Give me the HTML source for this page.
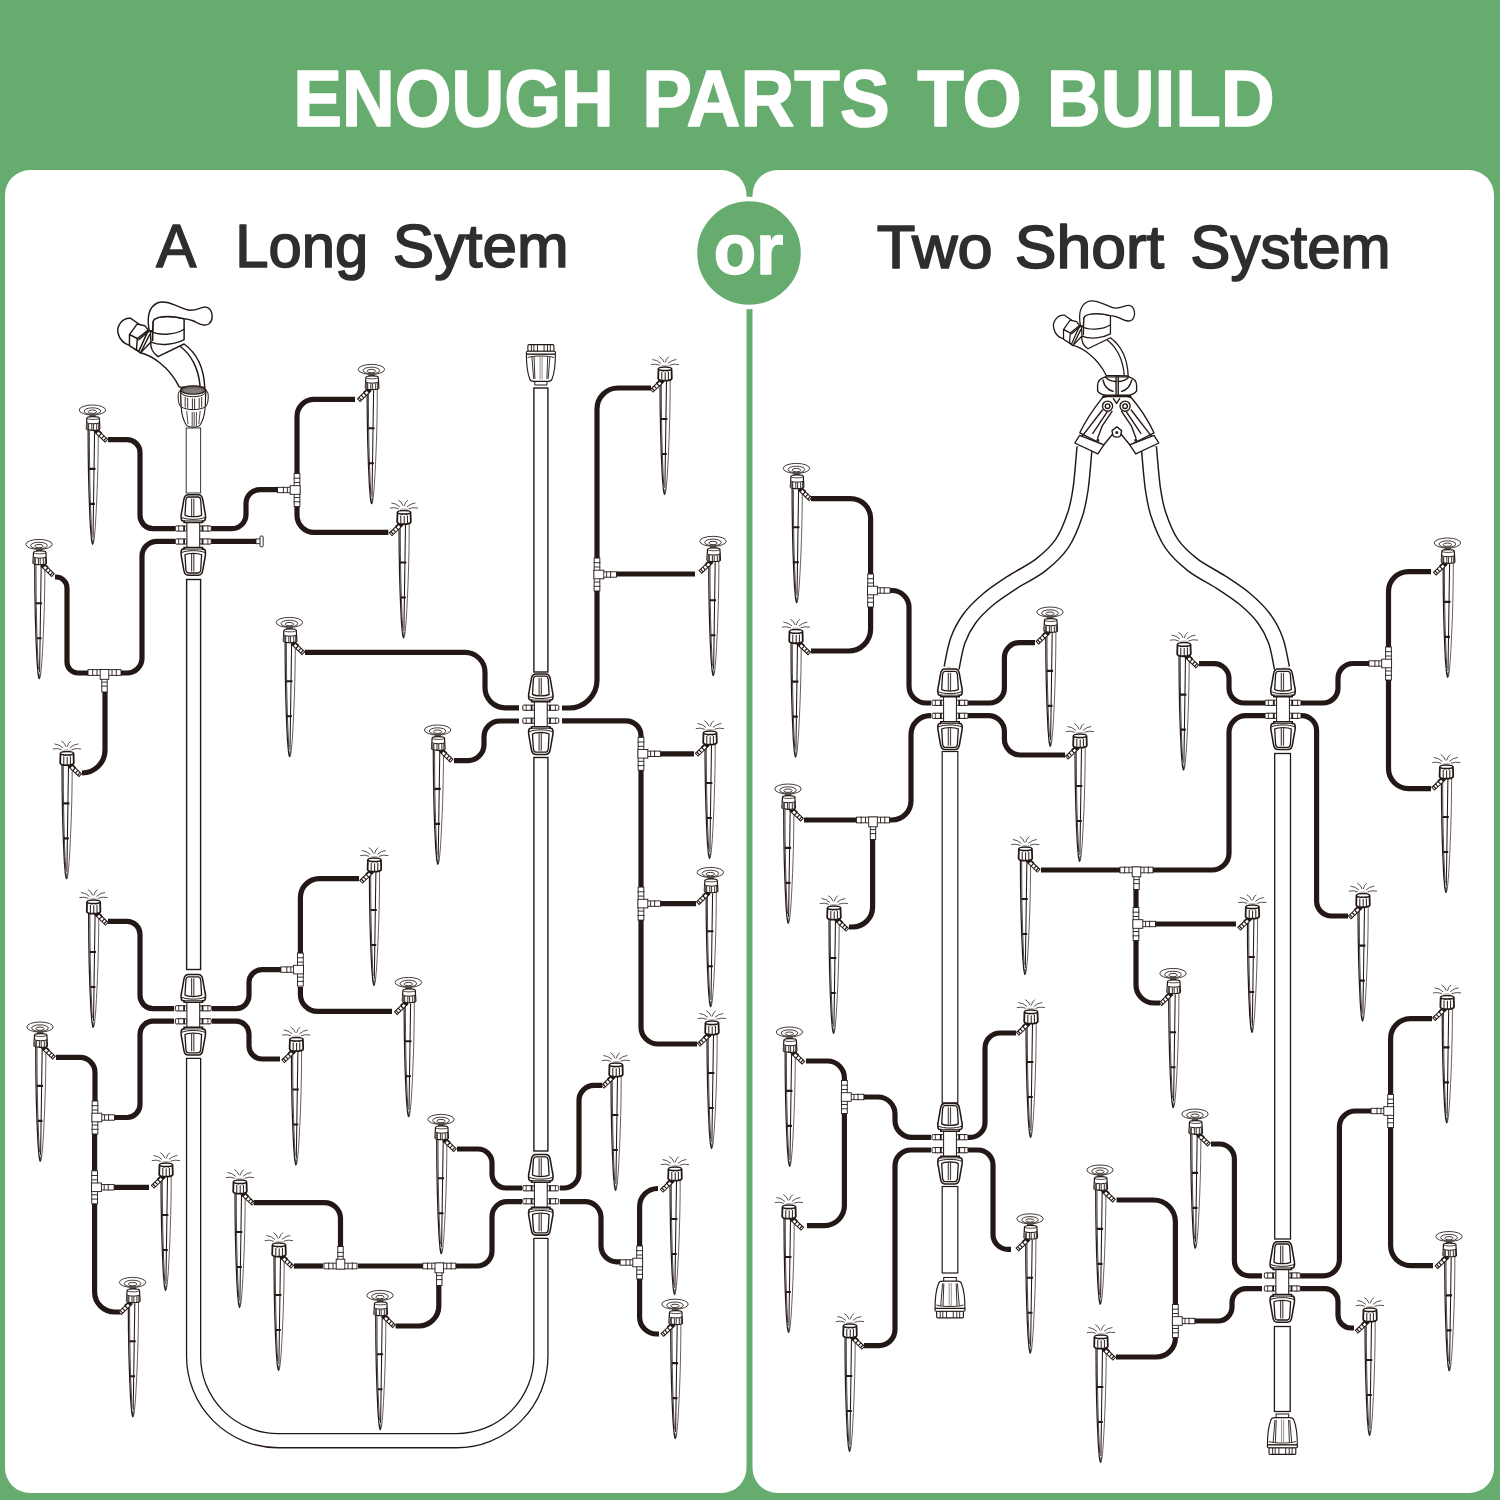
<!DOCTYPE html>
<html lang="en"><head><meta charset="utf-8"><title>Enough parts to build</title>
<style>html,body{margin:0;padding:0;background:#66ac6e;}body{width:1500px;height:1500px;overflow:hidden;}svg{display:block;}</style>
</head><body>
<svg width="1500" height="1500" viewBox="0 0 1500 1500">
<defs>
<g id="stk">
  <path d="M-5,12.5C-5,50 -4.2,82 -2.7,110L-1.7,122Q-1,127.2 -0.3,127.7Q0.4,127.2 1.1,122L2.2,110C3.9,82 5.2,50 5.2,12.5Z" fill="#fff" stroke="none"/>
  <path d="M5.2,12.5C5.2,50 3.9,82 2.2,110L1.1,122Q0.4,127.2 -0.3,127.7" fill="none" stroke="#4a4340" stroke-width="0.85"/>
  <path d="M-5,12.5C-5,50 -4.2,82 -2.7,110L-1.7,122Q-1,127.2 -0.3,127.7" fill="none" stroke="#231815" stroke-width="1.2"/>
  <path d="M-3.7,14C-3.7,55 -3,86 -1.3,118" fill="none" stroke="#231815" stroke-width="0.8"/>
  <path d="M1.5,14L-0.1,121" fill="none" stroke="#231815" stroke-width="1.05"/>
  <path d="M-3.9,52H2.4M-3.1,87H1.8" stroke="#231815" stroke-width="2.1"/>
  <path d="M-1.2,121.5L-0.3,127L0.5,121.5" fill="none" stroke="#231815" stroke-width="0.7"/>
</g>
<g id="barb">
  <g transform="translate(2.4,13.4) rotate(43.6)">
    <rect x="0" y="-1.9" width="15" height="3.8" fill="#fff" stroke="#231815" stroke-width="1"/>
    <path d="M6.4,-1.9V1.9M10,-1.9V1.9M13,-1.9V1.9" stroke="#231815" stroke-width="1.15"/>
    <path d="M0,-2H6.4" stroke="#231815" stroke-width="1.7"/>
    <rect x="0" y="-2" width="3" height="4" fill="#231815"/>
  </g>
</g>
<g id="hA">
  <ellipse cx="-0.7" cy="-6.9" rx="13.2" ry="5" fill="#fff" stroke="#231815" stroke-width="0.85"/>
  <ellipse cx="-0.7" cy="-5.8" rx="8.3" ry="3.3" fill="none" stroke="#231815" stroke-width="0.85"/>
  <ellipse cx="-0.7" cy="-5.2" rx="4.2" ry="1.7" fill="#fff" stroke="#231815" stroke-width="0.85"/>
  <rect x="-3.7" y="-3.4" width="6.4" height="5" fill="#574f4c"/>
  <path d="M-6.2,1.2C-6.2,-0.9 6.2,-0.9 6.2,1.2L6.8,11.8C6.8,14 -6.8,14 -6.8,11.8Z" fill="#fff" stroke="#231815" stroke-width="1.2"/>
  <path d="M-6.2,1.2C-6.2,3 6.2,3 6.2,1.2" fill="none" stroke="#231815" stroke-width="0.8"/>
  <path d="M-6.5,5.8C-4,7.2 4,7.2 6.5,5.8" fill="none" stroke="#231815" stroke-width="1"/>
  <path d="M-6.6,6L-6.8,12L-4.6,13V6.8Z" fill="#6d6663"/>
  <path d="M-4.4,6.8V13M-1.3,7.1V13.4M0.5,7.1V13.4M3.6,6.9V13.1M5.6,6.4V12.6" fill="none" stroke="#231815" stroke-width="0.9"/>
</g>
<g id="hB">
  <path d="M-6.5,1.8L-6.8,11.5C-6.8,14.4 6.8,14.4 6.8,11.5L6.5,1.8" fill="#fff" stroke="#231815" stroke-width="1.8"/>
  <ellipse cx="0" cy="1.8" rx="6.5" ry="1.8" fill="#fff" stroke="#231815" stroke-width="1.5"/>
  <path d="M-3.2,5V12.8M0.2,5.4V13.3M3.4,5V12.8" fill="none" stroke="#231815" stroke-width="1"/>
  <circle cx="-1.6" cy="3.9" r="0.7" fill="#231815"/><circle cx="2.4" cy="3.9" r="0.7" fill="#231815"/>
  <path d="M-0.9,-4.6Q-2,-8.5 -5.7,-10.4M0.3,-4.6Q1,-8.5 3.9,-10.4M-4.1,-3.6Q-8,-7.2 -12.6,-7.5M2.9,-3.6Q7,-7.2 11.4,-7.5M-5.2,-1.7Q-9.5,-3.6 -14.2,-2.4M4.5,-1.7Q9,-3.6 14,-2.4" fill="none" stroke="#231815" stroke-width="0.75"/>
  <path d="M-4,-0.9C-2,-1.8 2,-1.8 4,-0.9" fill="none" stroke="#9a9593" stroke-width="0.7"/>
</g>
<g id="nut">
  <path d="M-5,-40.3H5C7.9,-40.3 9,-38.4 9.5,-35L11.6,-23C12.2,-20.5 12.3,-18.8 12.2,-17.4C12.1,-15.2 11.6,-14.2 10.2,-14.1H9.2V-12.5H-9.2V-14.1H-10.2C-11.6,-14.2 -12.1,-15.2 -12.2,-17.4C-12.3,-18.8 -12.2,-20.5 -11.6,-23L-9.5,-35C-9,-38.4 -7.9,-40.3 -5,-40.3Z" fill="#fff" stroke="#231815" stroke-width="1.55"/>
  <path d="M-7.4,-35C-7,-37.2 -6.4,-38 -5,-38H5C6.4,-38 7,-37.2 7.4,-35L8.3,-19.8C5,-17.8 -5,-17.8 -8.3,-19.8Z" fill="none" stroke="#231815" stroke-width="1.3"/>
  <path d="M-11.8,-17.6C-6,-15 6,-15 11.8,-17.6" fill="none" stroke="#231815" stroke-width="1"/>
  <path d="M-1.7,-36.5V-19M0.5,-36.5V-19" fill="none" stroke="#4f4846" stroke-width="1.2"/>
  <path d="M-9.2,-14.1H9.2" fill="none" stroke="#231815" stroke-width="0.9"/>
</g>
<g id="brb">
  <rect x="6.4" y="-2.6" width="11.6" height="5.2" rx="1.2" fill="#fff" stroke="#231815" stroke-width="1"/>
  <path d="M9.2,-2.6V2.6" stroke="#231815" stroke-width="1.8"/>
  <path d="M14.6,-2.6V2.6" stroke="#231815" stroke-width="0.8"/>
</g>
<g id="cpl">
  <use href="#brb" y="-6.5"/><use href="#brb" y="6.5"/>
  <use href="#brb" y="-6.5" transform="scale(-1,1)"/><use href="#brb" y="6.5" transform="scale(-1,1)"/>
  <rect x="-6.4" y="-13" width="12.8" height="26" fill="#fff" stroke="#231815" stroke-width="1"/>
  <use href="#nut"/>
  <use href="#nut" transform="scale(1,-1)"/>
</g>
<g id="tee">
  <rect x="-2.85" y="-16.5" width="5.7" height="33" fill="#fff" stroke="#231815" stroke-width="0.9"/>
  <rect x="5" y="-2.7" width="14.5" height="5.4" fill="#fff" stroke="#231815" stroke-width="0.9"/>
  <rect x="-3.1" y="-4.3" width="9.9" height="8.6" fill="#fff" stroke="#231815" stroke-width="0.9"/>
  <path d="M-3.4,-11.8H3.4M-3.4,11.8H3.4M13.6,-3.2V3.2M-2.85,-7.5H2.85M-2.85,7.5H2.85M9.6,-2.7V2.7" fill="none" stroke="#231815" stroke-width="0.9"/>
</g>
<g id="ecap">
  <path d="M-6.1,36.5V41H6.1V36.5" fill="#fff" stroke="#231815" stroke-width="1"/>
  <path d="M-14.5,10C-14.5,20 -13,30 -11.3,34.5C-10.8,36.6 -9.5,37.4 -7,37.4H7C9.5,37.4 10.8,36.6 11.3,34.5C13,30 14.5,20 14.5,10Z" fill="#fff" stroke="#231815" stroke-width="1.1"/>
  <path d="M-12,0.6C-12.8,0.6 -13,1.2 -13,2V7.2H13V2C13,1.2 12.8,0.6 12,0.6Z" fill="#fff" stroke="#231815" stroke-width="1.1"/>
  <rect x="-14.6" y="7.2" width="29.2" height="2.9" rx="1.2" fill="#fff" stroke="#231815" stroke-width="1.1"/>
  <path d="M-9.5,0.8V7M-7,0.8V7M-3.4,0.8V7M3.2,0.8V7M6.6,0.8V7M9.4,0.8V7" fill="none" stroke="#231815" stroke-width="0.9"/>
  <path d="M-13.2,13.5C-8,11.5 8,11.5 13.2,13.5" fill="none" stroke="#231815" stroke-width="0.9"/>
  <path d="M-9,13L-7.2,35M-6.8,12.6L-6,35M6.8,12.6L6,35M9,13L7.2,35" fill="none" stroke="#231815" stroke-width="0.9"/>
  <path d="M-0.8,12.2V35.5M1.2,12.2V35.5" fill="none" stroke="#8a8583" stroke-width="0.9"/>
</g>

<g id="fct" fill="none" stroke="#231815" stroke-width="10.5" stroke-linejoin="round" stroke-linecap="round">
  <!-- spout -->
  <path d="M275,462C350,480 480,560 552,712L735,716C728,560 665,455 587,398L400,490C370,470 345,430 348,385Z" fill="#fff"/>
  <path d="M562,418C632,470 692,572 702,712"/>
  <!-- inlet cylinder + hex -->
  <path d="M205,210C150,203 98,262 116,325C126,365 160,396 196,408L262,452L330,300L255,246Z" fill="#fff"/>
  <path d="M196,330L250,252L306,264L330,296L252,358Z" fill="#fff"/>
  <path d="M196,330V410L246,442L252,358Z" fill="#fff"/>
  <path d="M246,442L274,464L340,330"/>
  <path d="M262,366L334,304"/>
  <!-- handle base cylinder -->
  <path d="M364,235C370,198 470,184 587,213V366C520,402 420,414 350,384L345,300Z" fill="#fff"/>
  <path d="M342,302C400,337 520,335 587,290"/>
  <path d="M364,236L362,372"/>
  <!-- lever -->
  <path d="M337,300C322,215 330,130 395,98C450,72 520,115 600,145C660,168 700,126 742,128C792,135 802,215 766,250C730,275 690,245 650,228C625,218 605,214 587,213C470,184 372,198 364,235L362,300Z" fill="#fff"/>
</g>
<g id="ysp" fill="none" stroke="#231815" stroke-width="11.5" stroke-linejoin="round" stroke-linecap="round">
  <!-- body -->
  <path d="M528,888C470,960 380,1085 332,1190L530,1292L606,1200L640,1150L674,1200L750,1292L950,1190C900,1085 815,960 752,888Z" fill="#fff"/>
  <path d="M520,1000L352,1218M600,1012L520,1130L480,1235M560,1015L440,1195"/>
  <path d="M760,1000L928,1218M680,1012L760,1130L800,1235M720,1015L840,1195"/>
  <path d="M612,905L638,945L664,905"/>
  <circle cx="563" cy="968" r="42" fill="#fff"/><circle cx="563" cy="968" r="19"/>
  <circle cx="709" cy="968" r="42" fill="#fff"/><circle cx="709" cy="968" r="19"/>
  <path d="M600,1172L640,1140L680,1172L672,1214C655,1230 625,1230 608,1214Z" fill="#fff"/>
  <circle cx="640" cy="1187" r="7"/>
  <!-- collars -->
  <path d="M290,1275L330,1212L532,1290L482,1366Z" fill="#fff"/>
  <path d="M990,1275L950,1212L748,1290L798,1366Z" fill="#fff"/>
  <circle cx="482" cy="1252" r="7"/><circle cx="798" cy="1252" r="7"/>
  <!-- hex nut -->
  <path d="M530,882C600,852 690,852 752,882L760,896C690,870 600,870 520,896Z" fill="#fff"/>
  <path d="M480,795C480,760 505,735 545,724H740C780,735 805,760 805,795V840C790,862 765,872 740,877H545C515,872 490,858 480,840Z" fill="#fff"/>
  <path d="M634,724V870M652,724V870"/>
  <path d="M525,750C535,800 570,835 610,845M765,750C752,800 720,835 680,845"/>
  <path d="M545,724C560,745 590,760 634,762M740,724C725,745 695,760 652,762"/>
</g>
<g id="fcon" stroke="#231815">
  <path d="M-12.6,0C-14.8,1.5 -15.2,4 -15,8C-14.8,12.5 -14,15.5 -12,17L-12.6,0M12.6,0C14.8,1.5 15.2,4 15,8C14.8,12.5 14,15.5 12,17L12.6,0" fill="#fff" stroke-width="1"/>
  <path d="M-12.6,0L-12,17C-11.5,25 -9,32 -6.5,35.5C-5,37.6 5,37.6 6.5,35.5C9,32 11.5,25 12,17L12.6,0Z" fill="#fff" stroke-width="1.1"/>
  <ellipse cx="0" cy="0" rx="12.6" ry="4.2" fill="#6a625f" stroke-width="1.3"/>
  <ellipse cx="0" cy="0.8" rx="9.5" ry="2.6" fill="#857d7a" stroke="none"/>
  <path d="M-12.3,3C-8,8 8,8 12.3,3" fill="none" stroke-width="1"/>
  <path d="M-12,17C-6,20.5 6,20.5 12,17" fill="none" stroke-width="1"/>
  <path d="M-8,7V17.5M-5.5,8V18.5M-0.8,8.6V19.5M1.4,8.6V19.5M6,8V18.5M8.5,7V17.5" fill="none" stroke-width="0.9"/>
  <path d="M-6.5,21L-5.2,34M-1,22V36M1,22V36M3.2,22V36M7,21L5.6,34" fill="none" stroke-width="0.8"/>
</g></defs>
<rect width="1500" height="1500" fill="#66ac6e"/>
<rect x="5" y="170" width="741.5" height="1323" rx="25" fill="#fff"/>
<rect x="752.5" y="170" width="741.5" height="1323" rx="25" fill="#fff"/>
<circle cx="749" cy="253" r="54" fill="#66ac6e" stroke="#fff" stroke-width="4.5"/>
<text y="125.6" font-family="Liberation Sans, Arial, Helvetica, sans-serif" font-size="80.5" font-weight="bold" fill="#fff" stroke="#fff" stroke-width="1.6" stroke-linejoin="round" xml:space="preserve"><tspan x="293.3" textLength="320.4" lengthAdjust="spacingAndGlyphs">ENOUGH</tspan> <tspan x="642.3" textLength="247.4" lengthAdjust="spacingAndGlyphs">PARTS</tspan> <tspan x="917.3" textLength="104.4" lengthAdjust="spacingAndGlyphs">TO</tspan> <tspan x="1046.8" textLength="227.9" lengthAdjust="spacingAndGlyphs">BUILD</tspan></text>
<text y="267.3" font-family="Liberation Sans, Arial, Helvetica, sans-serif" font-size="62" font-weight="normal" fill="#2e2e2e" stroke="#2e2e2e" stroke-width="1.7" stroke-linejoin="round" xml:space="preserve"><tspan x="156.15" textLength="36.7" lengthAdjust="spacingAndGlyphs">A</tspan> <tspan x="235.35" textLength="132.8" lengthAdjust="spacingAndGlyphs">Long</tspan> <tspan x="392.85" textLength="175.8" lengthAdjust="spacingAndGlyphs">Sytem</tspan></text>
<text y="267.8" font-family="Liberation Sans, Arial, Helvetica, sans-serif" font-size="62" font-weight="normal" fill="#2e2e2e" stroke="#2e2e2e" stroke-width="1.7" stroke-linejoin="round" xml:space="preserve"><tspan x="876.85" textLength="115.8" lengthAdjust="spacingAndGlyphs">Two</tspan> <tspan x="1014.85" textLength="149.3" lengthAdjust="spacingAndGlyphs">Short</tspan> <tspan x="1190.35" textLength="200.3" lengthAdjust="spacingAndGlyphs">System</tspan></text>
<text y="274.2" font-family="Liberation Sans, Arial, Helvetica, sans-serif" font-size="72" font-weight="bold" fill="#fff" stroke="#fff" stroke-width="1.6" stroke-linejoin="round" xml:space="preserve"><tspan x="713.8" textLength="69.4" lengthAdjust="spacingAndGlyphs">or</tspan></text>
<path d="M193.6,1058 V1356 A84.5,84.5 0 0 0 278.1,1440.7 H456.4 A84.5,84.5 0 0 0 540.9,1356 V1238" fill="none" stroke="#231815" stroke-width="15.4"/>
<path d="M193.6,1058 V1356 A84.5,84.5 0 0 0 278.1,1440.7 H456.4 A84.5,84.5 0 0 0 540.9,1356 V1238" fill="none" stroke="#fff" stroke-width="12.8"/>
<path d="M186.6,1058.3H200.6M533.9,1238.3H547.9" stroke="#231815" stroke-width="1.3"/>
<rect x="186.2" y="428.0" width="14.4" height="65.0" fill="#fff" stroke="#3a3331" stroke-width="1.0"/>
<rect x="186.6" y="579.5" width="14" height="390.0" fill="#fff" stroke="#231815" stroke-width="1.4"/>
<rect x="533.9" y="388.0" width="14" height="284.0" fill="#fff" stroke="#231815" stroke-width="1.4"/>
<rect x="533.9" y="757.5" width="14" height="393.5" fill="#fff" stroke="#231815" stroke-width="1.4"/>
<rect x="942.2" y="751.5" width="15.6" height="351.5" fill="#fff" stroke="#231815" stroke-width="1.2"/>
<rect x="942.2" y="1186.5" width="15.6" height="86.5" fill="#fff" stroke="#231815" stroke-width="1.2"/>
<rect x="1274.7" y="753.5" width="15.8" height="485.5" fill="#fff" stroke="#231815" stroke-width="1.3"/>
<rect x="1274.4" y="1326.5" width="15.8" height="85.0" fill="#fff" stroke="#231815" stroke-width="1.3"/>
<path d="M1084.6,447.0C1083.9,453.8 1082.3,476.8 1080.7,488.0C1079.1,499.2 1078.2,505.1 1075.1,514.4C1072.0,523.7 1067.6,535.3 1061.9,543.7C1056.2,552.1 1049.1,558.4 1040.8,564.9C1032.5,571.4 1020.9,576.7 1012.1,582.5C1003.3,588.3 995.1,593.5 988.0,599.5C980.9,605.5 974.5,611.7 969.5,618.5C964.5,625.3 960.8,632.2 957.8,640.5C954.8,648.8 952.6,663.4 951.6,668.0" fill="none" stroke="#231815" stroke-width="16.6"/>
<path d="M1084.6,447.0C1083.9,453.8 1082.3,476.8 1080.7,488.0C1079.1,499.2 1078.2,505.1 1075.1,514.4C1072.0,523.7 1067.6,535.3 1061.9,543.7C1056.2,552.1 1049.1,558.4 1040.8,564.9C1032.5,571.4 1020.9,576.7 1012.1,582.5C1003.3,588.3 995.1,593.5 988.0,599.5C980.9,605.5 974.5,611.7 969.5,618.5C964.5,625.3 960.8,632.2 957.8,640.5C954.8,648.8 952.6,663.4 951.6,668.0" fill="none" stroke="#fff" stroke-width="13.7"/>
<path d="M1148.9,447.0C1149.5,453.8 1151.2,476.8 1152.8,488.0C1154.4,499.2 1155.3,505.1 1158.4,514.4C1161.5,523.7 1165.9,535.3 1171.6,543.7C1177.3,552.1 1184.4,558.4 1192.7,564.9C1201.0,571.4 1212.6,576.7 1221.4,582.5C1230.2,588.3 1238.4,593.5 1245.5,599.5C1252.6,605.5 1259.0,611.7 1264.0,618.5C1269.0,625.3 1272.7,632.2 1275.7,640.5C1278.7,648.8 1280.9,663.4 1281.9,668.0" fill="none" stroke="#231815" stroke-width="16.6"/>
<path d="M1148.9,447.0C1149.5,453.8 1151.2,476.8 1152.8,488.0C1154.4,499.2 1155.3,505.1 1158.4,514.4C1161.5,523.7 1165.9,535.3 1171.6,543.7C1177.3,552.1 1184.4,558.4 1192.7,564.9C1201.0,571.4 1212.6,576.7 1221.4,582.5C1230.2,588.3 1238.4,593.5 1245.5,599.5C1252.6,605.5 1259.0,611.7 1264.0,618.5C1269.0,625.3 1272.7,632.2 1275.7,640.5C1278.7,648.8 1280.9,663.4 1281.9,668.0" fill="none" stroke="#fff" stroke-width="13.7"/>
<g fill="none" stroke="#231815" stroke-width="5.2">
<path d="M108.0,439.6L127.0,439.6A13.0,13.0 0 0 1 140.0,452.6L140.0,515.6A13.0,13.0 0 0 0 153.0,528.6L175.0,528.6"/>
<path d="M55.0,577.0L56.0,577.0A11.0,11.0 0 0 1 67.0,588.0L67.0,662.0A11.0,11.0 0 0 0 78.0,673.0L88.0,673.0"/>
<path d="M121.0,673.0L127.0,673.0A15.0,15.0 0 0 0 142.0,658.0L142.0,556.3A15.0,15.0 0 0 1 157.0,541.3L175.0,541.3"/>
<path d="M105.0,691.0L105.0,750.0A23.0,23.0 0 0 1 82.0,773.0L82.0,773.0"/>
<path d="M211.0,528.6L232.0,528.6A14.0,14.0 0 0 0 246.0,514.6L246.0,503.6A14.0,14.0 0 0 1 260.0,489.6L278.0,489.6"/>
<path d="M211.0,541.3L256.0,541.3"/>
<path d="M355.0,399.4L314.0,399.4A17.0,17.0 0 0 0 297.0,416.4L297.0,474.0"/>
<path d="M297.0,507.0L297.0,515.3A17.0,17.0 0 0 0 314.0,532.3L388.4,532.3"/>
<path d="M305.0,652.4L465.0,652.4A20.0,20.0 0 0 1 485.0,672.4L485.0,687.8A20.0,20.0 0 0 0 505.0,707.8L519.0,707.8"/>
<path d="M454.0,760.6L468.0,760.6A16.0,16.0 0 0 0 484.0,744.6L484.0,737.0A16.0,16.0 0 0 1 500.0,721.0L519.0,721.0"/>
<path d="M651.0,388.0L618.0,388.0A21.0,21.0 0 0 0 597.0,409.0L597.0,558.0"/>
<path d="M616.0,574.0L695.0,574.0"/>
<path d="M597.0,591.0L597.0,680.0A28.0,28.0 0 0 1 569.0,708.0L562.0,708.0"/>
<path d="M562.0,720.8L626.0,720.8A15.0,15.0 0 0 1 641.0,735.8L641.0,738.0"/>
<path d="M659.0,753.8L694.0,753.8"/>
<path d="M641.0,770.0L641.0,887.0"/>
<path d="M660.0,903.6L696.0,903.6"/>
<path d="M641.0,920.0L641.0,1027.0A17.0,17.0 0 0 0 658.0,1044.0L697.0,1044.0"/>
<path d="M108.0,921.4L127.0,921.4A13.0,13.0 0 0 1 140.0,934.4L140.0,995.6A13.0,13.0 0 0 0 153.0,1008.6L174.0,1008.6"/>
<path d="M56.0,1057.4L80.0,1057.4A15.0,15.0 0 0 1 95.0,1072.4L95.0,1101.0"/>
<path d="M114.0,1117.5L127.0,1117.5A13.0,13.0 0 0 0 140.0,1104.5L140.0,1034.2A13.0,13.0 0 0 1 153.0,1021.2L174.0,1021.2"/>
<path d="M212.0,1008.6L236.0,1008.6A13.0,13.0 0 0 0 249.0,995.6L249.0,982.6A13.0,13.0 0 0 1 262.0,969.6L281.0,969.6"/>
<path d="M212.0,1021.2L236.0,1021.2A13.0,13.0 0 0 1 249.0,1034.2L249.0,1046.0A13.0,13.0 0 0 0 262.0,1059.0L280.0,1059.0"/>
<path d="M359.0,878.6L319.4,878.6A19.0,19.0 0 0 0 300.4,897.6L300.4,953.0"/>
<path d="M300.4,987.0L300.4,994.4A17.0,17.0 0 0 0 317.4,1011.4L392.0,1011.4"/>
<path d="M94.6,1134.0L94.6,1171.0"/>
<path d="M114.0,1187.3L149.0,1187.3"/>
<path d="M94.6,1204.0L94.6,1292.0A20.0,20.0 0 0 0 114.6,1312.0L120.0,1312.0"/>
<path d="M457.0,1149.0L478.0,1149.0A14.0,14.0 0 0 1 492.0,1163.0L492.0,1174.0A14.0,14.0 0 0 0 506.0,1188.0L522.0,1188.0"/>
<path d="M522.0,1201.6L507.0,1201.6A15.0,15.0 0 0 0 492.0,1216.6L492.0,1251.0A15.0,15.0 0 0 1 477.0,1266.0L456.0,1266.0"/>
<path d="M438.8,1285.0L438.8,1306.0A20.0,20.0 0 0 1 418.8,1326.0L395.6,1326.0"/>
<path d="M423.0,1266.0L358.0,1266.0"/>
<path d="M340.5,1247.0L340.5,1218.6A16.0,16.0 0 0 0 324.5,1202.6L254.0,1202.6"/>
<path d="M323.0,1266.0L294.0,1266.0"/>
<path d="M560.0,1188.0L564.0,1188.0A15.0,15.0 0 0 0 579.0,1173.0L579.0,1100.4A15.0,15.0 0 0 1 594.0,1085.4L602.0,1085.4"/>
<path d="M560.0,1201.6L585.0,1201.6A16.0,16.0 0 0 1 601.0,1217.6L601.0,1245.8A16.0,16.0 0 0 0 617.0,1261.8L621.0,1261.8"/>
<path d="M639.6,1247.0L639.6,1206.5A18.0,18.0 0 0 1 657.6,1188.5L658.0,1188.5"/>
<path d="M639.6,1279.0L639.6,1317.0A17.0,17.0 0 0 0 656.6,1334.0L659.0,1334.0"/>
<path d="M811.0,498.6L850.6,498.6A20.0,20.0 0 0 1 870.6,518.6L870.6,574.0"/>
<path d="M870.6,607.0L870.6,629.0A22.0,22.0 0 0 1 848.6,651.0L811.0,651.0"/>
<path d="M888.0,590.5L892.0,590.5A17.0,17.0 0 0 1 909.0,607.5L909.0,686.0A17.0,17.0 0 0 0 926.0,703.0L931.0,703.0"/>
<path d="M931.0,715.6L930.0,715.6A19.0,19.0 0 0 0 911.0,734.6L911.0,801.0A19.0,19.0 0 0 1 892.0,820.0L890.0,820.0"/>
<path d="M856.0,820.0L804.0,820.0"/>
<path d="M872.6,839.0L872.6,907.0A20.0,20.0 0 0 1 852.6,927.0L849.0,927.0"/>
<path d="M967.0,703.0L989.4,703.0A15.0,15.0 0 0 0 1004.4,688.0L1004.4,657.6A15.0,15.0 0 0 1 1019.4,642.6L1035.0,642.6"/>
<path d="M967.0,715.6L988.4,715.6A16.0,16.0 0 0 1 1004.4,731.6L1004.4,739.0A16.0,16.0 0 0 0 1020.4,755.0L1065.0,755.0"/>
<path d="M1199.0,663.6L1214.0,663.6A15.0,15.0 0 0 1 1229.0,678.6L1229.0,688.0A15.0,15.0 0 0 0 1244.0,703.0L1266.0,703.0"/>
<path d="M1266.0,715.6L1246.0,715.6A17.0,17.0 0 0 0 1229.0,732.6L1229.0,853.0A17.0,17.0 0 0 1 1212.0,870.0L1153.0,870.0"/>
<path d="M1120.0,870.0L1041.0,870.0"/>
<path d="M1136.0,888.0L1136.0,908.0"/>
<path d="M1154.0,924.0L1236.0,924.0"/>
<path d="M1136.0,940.0L1136.0,985.0A18.0,18.0 0 0 0 1154.0,1003.0L1160.0,1003.0"/>
<path d="M1301.0,703.0L1323.0,703.0A15.0,15.0 0 0 0 1338.0,688.0L1338.0,678.5A15.0,15.0 0 0 1 1353.0,663.5L1370.0,663.5"/>
<path d="M1388.5,647.0L1388.5,591.6A20.0,20.0 0 0 1 1408.5,571.6L1431.0,571.6"/>
<path d="M1388.5,680.0L1388.5,768.6A20.0,20.0 0 0 0 1408.5,788.6L1431.0,788.6"/>
<path d="M1301.0,715.6L1301.6,715.6A15.0,15.0 0 0 1 1316.6,730.6L1316.6,901.0A15.0,15.0 0 0 0 1331.6,916.0L1348.0,916.0"/>
<path d="M806.0,1061.0L827.4,1061.0A17.0,17.0 0 0 1 844.4,1078.0L844.4,1081.0"/>
<path d="M862.0,1097.0L878.0,1097.0A17.0,17.0 0 0 1 895.0,1114.0L895.0,1120.4A17.0,17.0 0 0 0 912.0,1137.4L931.0,1137.4"/>
<path d="M844.4,1113.0L844.4,1205.6A20.0,20.0 0 0 1 824.4,1225.6L807.0,1225.6"/>
<path d="M931.0,1150.0L911.0,1150.0A16.0,16.0 0 0 0 895.0,1166.0L895.0,1329.6A16.0,16.0 0 0 1 879.0,1345.6L864.0,1345.6"/>
<path d="M968.0,1137.4L970.0,1137.4A15.0,15.0 0 0 0 985.0,1122.4L985.0,1048.0A15.0,15.0 0 0 1 1000.0,1033.0L1016.0,1033.0"/>
<path d="M968.0,1150.0L978.0,1150.0A15.0,15.0 0 0 1 993.0,1165.0L993.0,1234.4A15.0,15.0 0 0 0 1008.0,1249.4L1011.0,1249.4"/>
<path d="M1116.6,1200.0L1153.4,1200.0A22.0,22.0 0 0 1 1175.4,1222.0L1175.4,1305.0"/>
<path d="M1193.0,1321.0L1218.0,1321.0A14.0,14.0 0 0 0 1232.0,1307.0L1232.0,1302.6A14.0,14.0 0 0 1 1246.0,1288.6L1262.0,1288.6"/>
<path d="M1175.4,1338.0L1175.4,1338.0A19.0,19.0 0 0 1 1156.4,1357.0L1116.0,1357.0"/>
<path d="M1211.0,1144.0L1219.4,1144.0A15.0,15.0 0 0 1 1234.4,1159.0L1234.4,1260.8A15.0,15.0 0 0 0 1249.4,1275.8L1262.0,1275.8"/>
<path d="M1300.0,1275.8L1323.4,1275.8A16.0,16.0 0 0 0 1339.4,1259.8L1339.4,1127.0A16.0,16.0 0 0 1 1355.4,1111.0L1371.0,1111.0"/>
<path d="M1390.6,1094.0L1390.6,1038.6A20.0,20.0 0 0 1 1410.6,1018.6L1432.0,1018.6"/>
<path d="M1390.6,1128.0L1390.6,1245.6A20.0,20.0 0 0 0 1410.6,1265.6L1433.0,1265.6"/>
<path d="M1300.0,1288.6L1325.0,1288.6A13.0,13.0 0 0 1 1338.0,1301.6L1338.0,1315.0A13.0,13.0 0 0 0 1351.0,1328.0L1354.0,1328.0"/>
</g>
<rect x="256" y="538.9" width="4.5" height="4.8" fill="#fff" stroke="#231815" stroke-width="0.9"/><rect x="260" y="536" width="3.2" height="10.8" rx="1" fill="#fff" stroke="#231815" stroke-width="0.9"/>
<use href="#tee" transform="translate(104.5,672.5) rotate(90)"/>
<use href="#tee" transform="translate(297,490) rotate(180)"/>
<use href="#tee" transform="translate(597,574.5) rotate(0)"/>
<use href="#tee" transform="translate(641,753.8) rotate(0)"/>
<use href="#tee" transform="translate(641,903.6) rotate(0)"/>
<use href="#tee" transform="translate(95,1117.5) rotate(0)"/>
<use href="#tee" transform="translate(300.4,969.6) rotate(180)"/>
<use href="#tee" transform="translate(94.6,1187.3) rotate(0)"/>
<use href="#tee" transform="translate(439.3,1266) rotate(90)"/>
<use href="#tee" transform="translate(340.5,1266) rotate(-90)"/>
<use href="#tee" transform="translate(639.6,1262.5) rotate(180)"/>
<use href="#tee" transform="translate(870.6,590.5) rotate(0)"/>
<use href="#tee" transform="translate(873,820) rotate(90)"/>
<use href="#tee" transform="translate(1136.5,870) rotate(90)"/>
<use href="#tee" transform="translate(1136,924) rotate(0)"/>
<use href="#tee" transform="translate(1388.5,663.5) rotate(180)"/>
<use href="#tee" transform="translate(844.4,1097) rotate(0)"/>
<use href="#tee" transform="translate(1175.4,1321) rotate(0)"/>
<use href="#tee" transform="translate(1390.6,1111) rotate(180)"/>
<use href="#cpl" x="193.3" y="535"/>
<use href="#cpl" x="540.8" y="714.2"/>
<use href="#cpl" x="193.3" y="1014.8"/>
<use href="#cpl" x="540.8" y="1194.8"/>
<use href="#cpl" x="950" y="709.3"/>
<use href="#cpl" x="1283" y="709.3"/>
<use href="#cpl" x="950" y="1143.7"/>
<use href="#cpl" x="1282.3" y="1282"/>
<use href="#ecap" x="540.9" y="344"/>
<use href="#ecap" transform="translate(950,1318.5) scale(1.03,-1)"/>
<use href="#ecap" transform="translate(1282.4,1455) scale(1.03,-1)"/>
<g transform="translate(93.1,416.9)"><use href="#stk"/><use href="#barb"/><use href="#hA"/></g>
<g transform="translate(39.7,551.3)"><use href="#stk"/><use href="#barb"/><use href="#hA"/></g>
<g transform="translate(290.1,629.3)"><use href="#stk"/><use href="#barb"/><use href="#hA"/></g>
<g transform="translate(372.1,376.3)"><use href="#stk"/><use href="#barb" transform="scale(-1,1)"/><use href="#hA"/></g>
<g transform="translate(404.0,510.5)"><use href="#stk"/><use href="#barb" transform="scale(-1,1)"/><use href="#hB"/></g>
<g transform="translate(665.0,367.0)"><use href="#stk"/><use href="#barb" transform="scale(-1,1)"/><use href="#hB"/></g>
<g transform="translate(713.7,548.2)"><use href="#stk"/><use href="#barb" transform="scale(-1,1)"/><use href="#hA"/></g>
<g transform="translate(67.0,751.4)"><use href="#stk"/><use href="#barb"/><use href="#hB"/></g>
<g transform="translate(93.6,900.0)"><use href="#stk"/><use href="#barb"/><use href="#hB"/></g>
<g transform="translate(438.3,736.9)"><use href="#stk"/><use href="#barb"/><use href="#hA"/></g>
<g transform="translate(374.4,858.0)"><use href="#stk"/><use href="#barb" transform="scale(-1,1)"/><use href="#hB"/></g>
<g transform="translate(710.0,731.0)"><use href="#stk"/><use href="#barb" transform="scale(-1,1)"/><use href="#hB"/></g>
<g transform="translate(711.1,879.3)"><use href="#stk"/><use href="#barb" transform="scale(-1,1)"/><use href="#hA"/></g>
<g transform="translate(40.7,1033.9)"><use href="#stk"/><use href="#barb"/><use href="#hA"/></g>
<g transform="translate(296.4,1037.5)"><use href="#stk"/><use href="#barb" transform="scale(-1,1)"/><use href="#hB"/></g>
<g transform="translate(409.1,989.3)"><use href="#stk"/><use href="#barb" transform="scale(-1,1)"/><use href="#hA"/></g>
<g transform="translate(441.7,1126.3)"><use href="#stk"/><use href="#barb"/><use href="#hA"/></g>
<g transform="translate(712.0,1021.0)"><use href="#stk"/><use href="#barb" transform="scale(-1,1)"/><use href="#hB"/></g>
<g transform="translate(616.0,1063.0)"><use href="#stk"/><use href="#barb" transform="scale(-1,1)"/><use href="#hB"/></g>
<g transform="translate(166.0,1163.0)"><use href="#stk"/><use href="#barb" transform="scale(-1,1)"/><use href="#hB"/></g>
<g transform="translate(133.3,1289.3)"><use href="#stk"/><use href="#barb" transform="scale(-1,1)"/><use href="#hA"/></g>
<g transform="translate(240.0,1180.0)"><use href="#stk"/><use href="#barb"/><use href="#hB"/></g>
<g transform="translate(279.0,1243.0)"><use href="#stk"/><use href="#barb"/><use href="#hB"/></g>
<g transform="translate(380.7,1302.3)"><use href="#stk"/><use href="#barb"/><use href="#hA"/></g>
<g transform="translate(675.0,1167.0)"><use href="#stk"/><use href="#barb" transform="scale(-1,1)"/><use href="#hB"/></g>
<g transform="translate(675.7,1311.1)"><use href="#stk"/><use href="#barb" transform="scale(-1,1)"/><use href="#hA"/></g>
<g transform="translate(797.1,475.3)"><use href="#stk"/><use href="#barb"/><use href="#hA"/></g>
<g transform="translate(796.0,629.6)"><use href="#stk"/><use href="#barb"/><use href="#hB"/></g>
<g transform="translate(1050.7,618.9)"><use href="#stk"/><use href="#barb" transform="scale(-1,1)"/><use href="#hA"/></g>
<g transform="translate(788.7,795.9)"><use href="#stk"/><use href="#barb"/><use href="#hA"/></g>
<g transform="translate(1080.0,734.0)"><use href="#stk"/><use href="#barb" transform="scale(-1,1)"/><use href="#hB"/></g>
<g transform="translate(1025.4,847.0)"><use href="#stk"/><use href="#barb"/><use href="#hB"/></g>
<g transform="translate(1184.0,642.6)"><use href="#stk"/><use href="#barb"/><use href="#hB"/></g>
<g transform="translate(1448.1,549.9)"><use href="#stk"/><use href="#barb" transform="scale(-1,1)"/><use href="#hA"/></g>
<g transform="translate(1446.4,765.0)"><use href="#stk"/><use href="#barb" transform="scale(-1,1)"/><use href="#hB"/></g>
<g transform="translate(834.0,906.0)"><use href="#stk"/><use href="#barb"/><use href="#hB"/></g>
<g transform="translate(790.1,1038.9)"><use href="#stk"/><use href="#barb"/><use href="#hA"/></g>
<g transform="translate(1031.0,1010.0)"><use href="#stk"/><use href="#barb" transform="scale(-1,1)"/><use href="#hB"/></g>
<g transform="translate(1252.4,905.0)"><use href="#stk"/><use href="#barb" transform="scale(-1,1)"/><use href="#hB"/></g>
<g transform="translate(1173.7,980.3)"><use href="#stk"/><use href="#barb" transform="scale(-1,1)"/><use href="#hA"/></g>
<g transform="translate(1363.0,893.6)"><use href="#stk"/><use href="#barb" transform="scale(-1,1)"/><use href="#hB"/></g>
<g transform="translate(1447.2,995.4)"><use href="#stk"/><use href="#barb" transform="scale(-1,1)"/><use href="#hB"/></g>
<g transform="translate(789.0,1205.0)"><use href="#stk"/><use href="#barb"/><use href="#hB"/></g>
<g transform="translate(850.0,1324.0)"><use href="#stk"/><use href="#barb"/><use href="#hB"/></g>
<g transform="translate(1030.7,1225.7)"><use href="#stk"/><use href="#barb" transform="scale(-1,1)"/><use href="#hA"/></g>
<g transform="translate(1100.7,1176.9)"><use href="#stk"/><use href="#barb"/><use href="#hA"/></g>
<g transform="translate(1101.0,1335.0)"><use href="#stk"/><use href="#barb"/><use href="#hB"/></g>
<g transform="translate(1195.7,1120.9)"><use href="#stk"/><use href="#barb"/><use href="#hA"/></g>
<g transform="translate(1449.7,1243.4)"><use href="#stk"/><use href="#barb" transform="scale(-1,1)"/><use href="#hA"/></g>
<g transform="translate(1370.0,1308.0)"><use href="#stk"/><use href="#barb" transform="scale(-1,1)"/><use href="#hB"/></g>
<use href="#fct" transform="translate(102.1,289.6) scale(0.1397,0.1367)"/>
<use href="#fcon" x="193.2" y="390"/>
<g transform="translate(1040,290) scale(0.12)"><use href="#fct"/><use href="#ysp"/></g>
</svg>
</body></html>
